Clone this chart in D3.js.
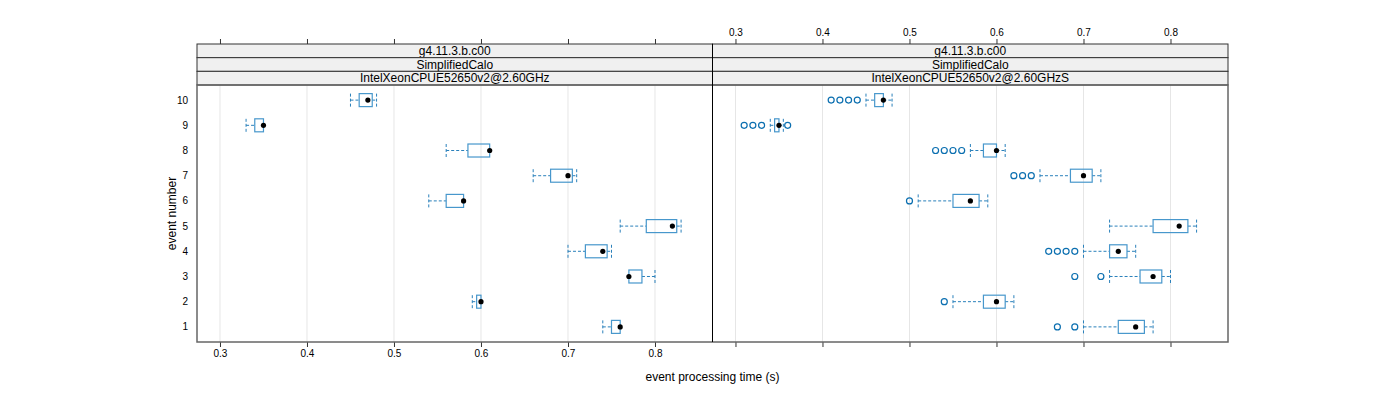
<!DOCTYPE html>
<html>
<head>
<meta charset="utf-8">
<script src="https://cdn.jsdelivr.net/npm/d3@7"></script>
<style>
body { margin: 0; background: #fff; }
text { font-family: "Liberation Sans", Arial, sans-serif; fill: #000; }
</style>
</head>
<body>
<div id="chart"></div>
<script>
// events and tick values
var events = [1, 2, 3, 4, 5, 6, 7, 8, 9, 10];
var xTicks = [0.3, 0.4, 0.5, 0.6, 0.7, 0.8];
var strips = ["g4.11.3.b.c00", "SimplifiedCalo"];
var machines = ["IntelXeonCPUE52650v2@2.60GHz", "IntelXeonCPUE52650v2@2.60GHzS"];

// left panel: whisker low, q1, median, q3, whisker high (events 1..10)
var loA  = [0.74, 0.59, 0.77, 0.70, 0.76, 0.54, 0.66, 0.56, 0.33, 0.45];
var q1A  = [0.75, 0.595, 0.77, 0.72, 0.79, 0.56, 0.68, 0.585, 0.34, 0.46];
var medA = [0.76, 0.60, 0.77, 0.74, 0.82, 0.58, 0.70, 0.61, 0.35, 0.47];
var q3A  = [0.76, 0.60, 0.785, 0.745, 0.825, 0.58, 0.705, 0.61, 0.35, 0.475];
var hiA  = [0.76, 0.60, 0.80, 0.75, 0.83, 0.58, 0.71, 0.61, 0.35, 0.48];
var outA = [[], [], [], [], [], [], [], [], [], []];

// right panel
var loB  = [0.70, 0.55, 0.73, 0.70, 0.73, 0.51, 0.65, 0.57, 0.34, 0.45];
var q1B  = [0.74, 0.585, 0.765, 0.73, 0.78, 0.55, 0.685, 0.585, 0.345, 0.46];
var medB = [0.76, 0.60, 0.78, 0.74, 0.81, 0.57, 0.70, 0.60, 0.35, 0.47];
var q3B  = [0.77, 0.61, 0.79, 0.75, 0.82, 0.58, 0.71, 0.60, 0.35, 0.47];
var hiB  = [0.78, 0.62, 0.80, 0.76, 0.83, 0.59, 0.72, 0.61, 0.355, 0.48];
var outB = [[0.67, 0.69], [0.54], [0.69, 0.72], [0.66, 0.67, 0.68, 0.69], [], [0.50],
            [0.62, 0.63, 0.64], [0.53, 0.54, 0.55, 0.56], [0.31, 0.32, 0.33, 0.36], [0.41, 0.42, 0.43, 0.44]];

var panels = [
  {lo: loA, q1: q1A, med: medA, q3: q3A, hi: hiA, out: outA, name: machines[0]},
  {lo: loB, q1: q1B, med: medB, q3: q3B, hi: hiB, out: outB, name: machines[1]}
];

var W = 1400, H = 400;
var left = 197, pw = 515.5, stripTop = 44, stripH = 13.67, plotTop = 85, plotBot = 342;

var svg = d3.select("#chart").append("svg")
  .attr("width", W).attr("height", H);

var y = d3.scaleLinear().domain([0.4, 10.6]).range([plotBot, plotTop]);

var boxCol = "#4797cc", umbCol = "#2a80bb", symCol = "#0b6fb0";
var bh = 13;

panels.forEach(function(p, pi) {
  var x0 = left + pi * pw;
  var x = d3.scaleLinear().domain([0.2736, 0.8661]).range([x0, x0 + pw]);
  var g = svg.append("g");

  // grid lines
  g.selectAll("line.grid").data(xTicks).enter().append("line")
    .attr("x1", function(d) { return x(d); }).attr("x2", function(d) { return x(d); })
    .attr("y1", plotTop).attr("y2", plotBot)
    .attr("stroke", "#e6e6e6").attr("stroke-width", 1);

  // strips
  var labels = strips.concat([p.name]);
  labels.forEach(function(s, si) {
    var sy = stripTop + si * stripH;
    g.append("rect").attr("x", x0).attr("y", sy).attr("width", pw).attr("height", stripH)
      .attr("fill", "#f0f0f0").attr("stroke", "#333").attr("stroke-width", 1);
    g.append("text").attr("x", x0 + pw / 2).attr("y", sy + stripH / 2 + 4.2)
      .attr("text-anchor", "middle").attr("font-size", 12).text(s);
  });

  events.forEach(function(ev, i) {
    var cy = y(ev);
    // umbrella lines
    [[p.lo[i], p.q1[i]], [p.q3[i], p.hi[i]]].forEach(function(seg) {
      if (seg[1] - seg[0] < 0.0005) return;
      g.append("line").attr("x1", x(seg[0])).attr("x2", x(seg[1]))
        .attr("y1", cy).attr("y2", cy)
        .attr("stroke", umbCol).attr("stroke-dasharray", "3,2");
    });
    [p.lo[i], p.hi[i]].forEach(function(v, k) {
      if (k == 0 && p.q1[i] - v < 0.0005) return;
      if (k == 1 && v - p.q3[i] < 0.0005) return;
      g.append("line").attr("x1", x(v)).attr("x2", x(v))
        .attr("y1", cy - bh / 2).attr("y2", cy + bh / 2)
        .attr("stroke", umbCol).attr("stroke-dasharray", "3,2");
    });
    // box
    g.append("rect").attr("x", x(p.q1[i])).attr("y", cy - bh / 2)
      .attr("width", Math.max(x(p.q3[i]) - x(p.q1[i]), 1)).attr("height", bh)
      .attr("fill", "none").attr("stroke", boxCol).attr("stroke-width", 1.2);
    // outliers
    g.selectAll(null).data(p.out[i]).enter().append("circle")
      .attr("cx", function(d) { return x(d); }).attr("cy", cy).attr("r", 3)
      .attr("fill", "none").attr("stroke", symCol).attr("stroke-width", 1.2);
    // median dot
    g.append("circle").attr("cx", x(p.med[i])).attr("cy", cy).attr("r", 2.6).attr("fill", "#000");
  });

  // ticks top and bottom
  var topAxis = d3.axisTop(x).tickValues(xTicks).tickSize(5).tickSizeOuter(0)
    .tickFormat(pi == 1 ? d3.format(".1f") : "");
  var botAxis = d3.axisBottom(x).tickValues(xTicks).tickSize(5).tickSizeOuter(0)
    .tickFormat(pi == 0 ? d3.format(".1f") : "");
  [[topAxis, stripTop], [botAxis, plotBot]].forEach(function(a) {
    var ag = g.append("g").attr("transform", "translate(0," + a[1] + ")").call(a[0]);
    ag.select(".domain").remove();
    ag.selectAll("line").attr("stroke", "#333");
    ag.selectAll("text").attr("font-size", 10).attr("font-family", "Liberation Sans, Arial, sans-serif");
  });
});

// panel frames
svg.append("rect").attr("x", left).attr("y", plotTop).attr("width", pw * 2).attr("height", plotBot - plotTop)
  .attr("fill", "none").attr("stroke", "#666").attr("stroke-width", 1.5);
svg.append("line").attr("x1", left + pw).attr("x2", left + pw).attr("y1", stripTop).attr("y2", plotBot)
  .attr("stroke", "#000").attr("stroke-width", 1);

// y labels
svg.selectAll("text.ylab").data(events).enter().append("text")
  .attr("x", 188).attr("y", function(d) { return y(d) + 3.5; })
  .attr("text-anchor", "end").attr("font-size", 10).text(function(d) { return d; });

// axis titles
svg.append("text").attr("x", left + pw).attr("y", 381).attr("text-anchor", "middle")
  .attr("font-size", 12).text("event processing time (s)");
svg.append("text").attr("transform", "translate(176," + (plotTop + plotBot) / 2 + ") rotate(-90)")
  .attr("text-anchor", "middle").attr("font-size", 12).text("event number");
</script>
</body>
</html>
